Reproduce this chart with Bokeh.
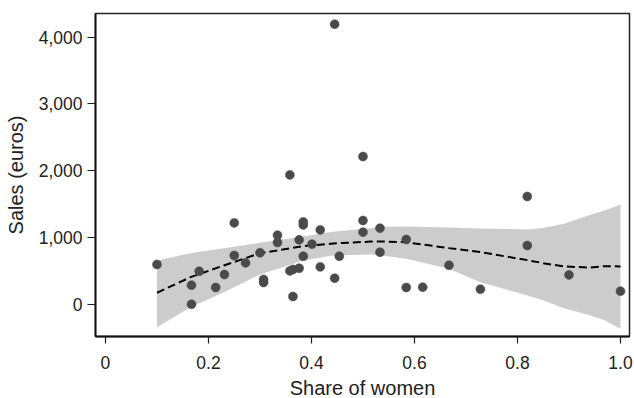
from bokeh.plotting import figure
from bokeh.models import Range1d, NumeralTickFormatter, FixedTicker
from bokeh.embed import file_html
from bokeh.resources import INLINE

# Observed data: share of women vs sales (euros)
share = [0.100, 0.167, 0.167, 0.182, 0.214, 0.231, 0.250, 0.250, 0.272, 0.300,
         0.307, 0.307, 0.334, 0.334, 0.358, 0.364, 0.364, 0.376, 0.376, 0.384,
         0.384, 0.384, 0.401, 0.417, 0.417, 0.445, 0.454, 0.500, 0.500, 0.533,
         0.533, 0.584, 0.584, 0.616, 0.667, 0.728, 0.819, 0.900, 1.000, 0.445,
         0.358, 0.500, 0.819]
sales = [595, 285, 0, 494, 250, 445, 1218, 730, 619, 770,
         370, 325, 1034, 924, 499, 520, 115, 539, 964, 1233,
         1188, 719, 899, 1113, 559, 390, 719, 1254, 1079, 1139,
         779, 969, 250, 255, 584, 225, 879, 439, 195, 4195,
         1937, 2212, 1613]

# Local polynomial fit and confidence band
fit_x = [0.10, 0.165, 0.23, 0.30, 0.384, 0.437, 0.456, 0.515, 0.533, 0.584,
         0.667, 0.728, 0.819, 0.850, 0.890, 0.942, 0.968, 1.0]
fit_y = [171, 405, 580, 764, 869, 905, 915, 938, 940, 928,
         840, 780, 660, 615, 565, 548, 570, 565]
band_lo = [-344, -45, 180, 445, 655, 725, 735, 744, 735, 680,
           530, 330, 130, 60, -60, -170, -235, -369]
band_hi = [655, 764, 839, 919, 1014, 1080, 1095, 1139, 1160, 1164,
           1150, 1135, 1120, 1140, 1204, 1340, 1400, 1494]

x_ticks = [0, 0.2, 0.4, 0.6, 0.8, 1.0]
x_tick_labels = ["0", "0.2", "0.4", "0.6", "0.8", "1.0"]
y_ticks = [0, 1000, 2000, 3000, 4000]

FONT = "Liberation Sans"

p = figure(frame_width=534, frame_height=323,
           min_border_left=95, min_border_right=5, min_border_top=13, min_border_bottom=62,
           x_range=Range1d(-0.0194, 1.0175), y_range=Range1d(-484, 4355),
           output_backend="svg", toolbar_location=None)

p.varea(x=fit_x, y1=band_lo, y2=band_hi, fill_color="#cccccc", fill_alpha=1.0)
p.line(x=fit_x, y=fit_y, line_color="black", line_width=2, line_dash="8 4")
p.scatter(x=share, y=sales, size=9, fill_color="#4a4a4a", line_color="#4a4a4a", line_width=0.5)

p.xgrid.visible = False
p.ygrid.visible = False
p.outline_line_color = "#222222"
p.outline_line_width = 1.5
p.background_fill_color = "white"
p.border_fill_color = "white"

p.xaxis.ticker = FixedTicker(ticks=x_ticks)
p.xaxis.major_label_overrides = {t: l for t, l in zip(x_ticks, x_tick_labels)}
p.yaxis.ticker = FixedTicker(ticks=y_ticks)
p.yaxis.formatter = NumeralTickFormatter(format="0,0")

for ax in (p.xaxis, p.yaxis):
    ax.minor_tick_line_color = None
    ax.major_tick_in = 0
    ax.major_tick_line_color = "#222222"
    ax.major_tick_line_width = 1.2
    ax.axis_line_color = "#111111"
    ax.axis_line_width = 1.8
    ax.major_label_text_font = FONT
    ax.major_label_text_font_size = "17.5px"
    ax.major_label_text_color = "#222222"
    ax.axis_label_text_font = FONT
    ax.axis_label_text_font_size = "20px"
    ax.axis_label_text_font_style = "normal"
    ax.axis_label_text_color = "#222222"

p.xaxis.major_tick_out = 7
p.yaxis.major_tick_out = 8
p.xaxis.axis_label = "Share of women"
p.yaxis.axis_label = "Sales (euros)"
p.xaxis.major_label_standoff = 12
p.yaxis.major_label_standoff = 5
p.xaxis.axis_label_standoff = 5
p.yaxis.axis_label_standoff = 9

open("out.html", "w").write(file_html(p, INLINE))
